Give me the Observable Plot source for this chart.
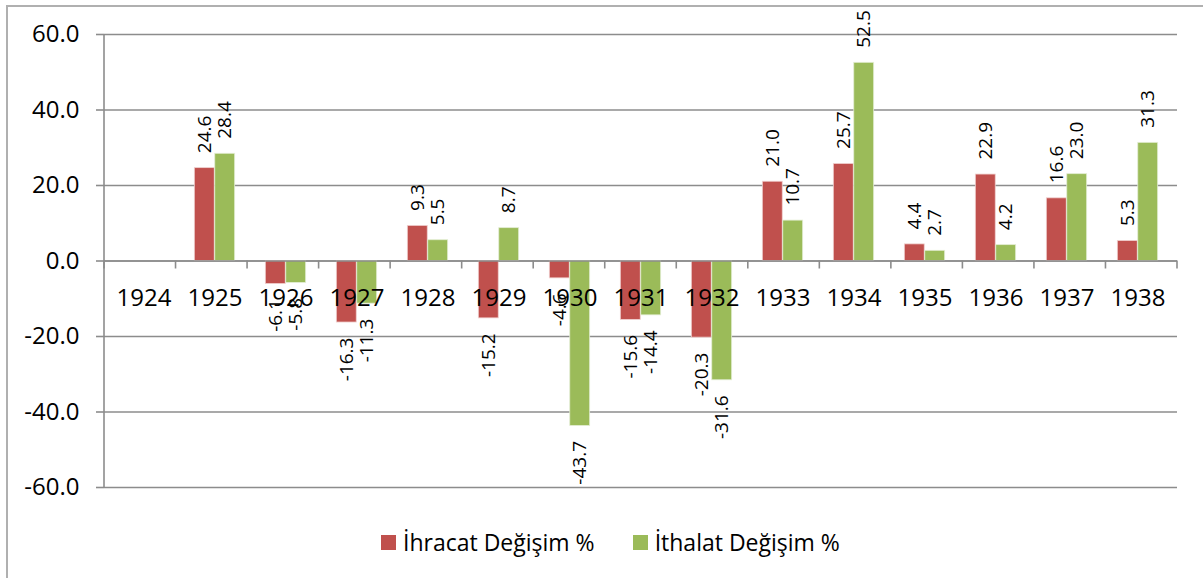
<!DOCTYPE html>
<html>
<head>
<meta charset="utf-8">
<script src="https://cdn.jsdelivr.net/npm/d3@7"></script>
<script src="https://cdn.jsdelivr.net/npm/@observablehq/plot@0.6"></script>
<style>
  html, body { margin: 0; padding: 0; background: #fff; }
  body { width: 1203px; height: 578px; position: relative; overflow: hidden; font-family: "Open Sans", "Liberation Sans", sans-serif; }
  #frame { position: absolute; left: 6px; top: 5px; width: 1220px; height: 600px; border-left: 2px solid #b0b0b0; border-top: 2px solid #b0b0b0; box-sizing: border-box; }
  #chart { position: absolute; left: 0; top: 0; }
  #legend { position: absolute; left: 381px; top: 526px; display: flex; align-items: center; font-size: 23px; color: #000; }
  .sw { width: 15px; height: 15px; display: inline-block; }
</style>
</head>
<body>
<div id="frame"></div>
<div id="chart"></div>
<div id="legend"></div>
<script>
const years = ["1924","1925","1926","1927","1928","1929","1930","1931","1932","1933","1934","1935","1936","1937","1938"];
const seriesNames = ["İhracat Değişim %", "İthalat Değişim %"];
const ihracat = [null, 24.6, -6.1, -16.3, 9.3, -15.2, -4.6, -15.6, -20.3, 21.0, 25.7, 4.4, 22.9, 16.6, 5.3];
const ithalat = [null, 28.4, -5.8, -11.3, 5.5, 8.7, -43.7, -14.4, -31.6, 10.7, 52.5, 2.7, 4.2, 23.0, 31.3];
const yTicks = [-60, -40, -20, 0, 20, 40, 60];
const colors = ["#C0504D", "#9BBB59"];

const W = 1203, H = 510;
const mL = 104, mR = 26, mT = 34, mB = 23;
const band = (W - mL - mR) / years.length;
const barW = band / 3.5; // Excel gap width 150%
const gap = 0.75 * barW;

const rows = [];
years.forEach((y, i) => {
  if (ihracat[i] != null) rows.push({year: y, series: seriesNames[0], value: ihracat[i]});
  if (ithalat[i] != null) rows.push({year: y, series: seriesNames[1], value: ithalat[i]});
});
const red = rows.filter(d => d.series === seriesNames[0]);
const green = rows.filter(d => d.series === seriesNames[1]);
const fmt = d => d.value.toFixed(1);
const tickFmt = d => d.toFixed(1);
const labelFont = 19;
const off = 15;

function labels(data, dx) {
  return [
    Plot.text(data.filter(d => d.value >= 0), {x: "year", y: "value", text: fmt, rotate: -90, textAnchor: "start", dx, dy: -off, fontSize: labelFont, fill: "#000"}),
    Plot.text(data.filter(d => d.value < 0), {x: "year", y: "value", text: fmt, rotate: -90, textAnchor: "end", dx, dy: off, fontSize: labelFont, fill: "#000"})
  ];
}

const chart = Plot.plot({
  width: W, height: H,
  marginLeft: mL, marginRight: mR, marginTop: mT, marginBottom: mB,
  style: {fontFamily: "'Open Sans', 'Liberation Sans', sans-serif", fontSize: "24px", background: "transparent", color: "#000"},
  x: {domain: years, padding: 0, axis: null},
  y: {domain: [-60, 60], ticks: yTicks, tickFormat: tickFmt, tickSize: 8, tickPadding: 17, label: null, line: false},
  marks: [
    Plot.ruleY(yTicks, {stroke: "#8c8c8c", strokeWidth: 1.6}),
    Plot.barY(red, {x: "year", y: "value", fill: colors[0], stroke: "#f0d0cf", strokeWidth: 0.8, insetLeft: gap, insetRight: band - gap - barW}),
    Plot.barY(green, {x: "year", y: "value", fill: colors[1], stroke: "#e3edd3", strokeWidth: 0.8, insetLeft: gap + barW, insetRight: gap}),
    Plot.ruleY([0], {stroke: "#8c8c8c", strokeWidth: 1.6}),
    ...labels(red, -barW / 2),
    ...labels(green, barW / 2),
    Plot.text(years, {x: d => d, y: 0, text: d => d, dy: 37, fontSize: 24, fill: "#000"})
  ]
});

// category boundary ticks and the vertical axis line, drawn from the plot's own scales
const xs = chart.scale("x");
const ys = chart.scale("y");
const svg = d3.select(chart);
const step = (xs.range[1] - xs.range[0]) / years.length;
const y0 = ys.range[0] + (ys.range[1] - ys.range[0]) * (0 - ys.domain[0]) / (ys.domain[1] - ys.domain[0]);
const g = svg.append("g").attr("stroke", "#8c8c8c").attr("stroke-width", 1.6);
for (let i = 0; i <= years.length; i++) {
  const x = xs.range[0] + i * step;
  g.append("line").attr("x1", x).attr("x2", x).attr("y1", y0).attr("y2", y0 + 8);
}
g.append("line").attr("x1", xs.range[0]).attr("x2", xs.range[0]).attr("y1", Math.min(...ys.range)).attr("y2", Math.max(...ys.range));

// enlarge y tick labels
const tickLabels = yTicks.map(tickFmt);
svg.selectAll("text").filter(function() {
  return tickLabels.includes(this.textContent) && !/rotate/.test(this.getAttribute("transform") || "");
}).attr("font-size", 24).style("font-size", "24px").attr("fill", "#000");
svg.selectAll("[aria-label='y-axis'] line, [aria-label='y-axis tick'] path, [aria-label='y-axis tick'] line").attr("stroke", "#8c8c8c").attr("stroke-width", 1.6);
document.getElementById("chart").appendChild(chart);

const legend = document.getElementById("legend");
seriesNames.forEach((n, i) => {
  const sw = document.createElement("span");
  sw.className = "sw";
  sw.style.background = colors[i];
  if (i > 0) sw.style.marginLeft = "38px";
  const t = document.createElement("span");
  t.textContent = n;
  t.style.marginLeft = "7px";
  legend.appendChild(sw);
  legend.appendChild(t);
});
</script>
</body>
</html>
